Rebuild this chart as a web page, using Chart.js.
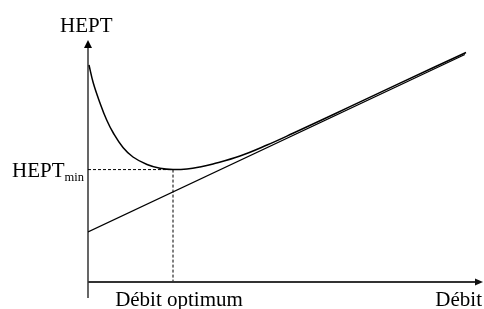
<!DOCTYPE html>
<html>
<head>
<meta charset="utf-8">
<script src="https://cdn.jsdelivr.net/npm/chart.js@4/dist/chart.umd.min.js"></script>
<style>
html,body{margin:0;padding:0;background:#fff;}
canvas{display:block;}
</style>
</head>
<body>
<canvas id="c" width="484" height="309"></canvas>
<script>
// Data (arbitrary units: x 0..100, y 0..100)
const curveX = [0.25, 1.34, 3.04, 4.73, 6.41, 8.86, 11.39, 14.94, 18.23, 21.52, 25.06, 28.35, 31.65, 38.48, 45.32, 51.90, 58.73, 66.33, 78.99, 95.70];
const curveY = [89.67, 82.23, 73.97, 66.94, 61.57, 55.58, 51.65, 48.55, 46.98, 46.45, 46.69, 47.52, 48.76, 52.07, 56.60, 61.45, 66.65, 72.45, 82.19, 94.83];
const lineX = [0, 95.4];
const lineY = [20.7, 94.0];
const optimumX = 21.52;  // Débit optimum
const hminY = 46.45;     // HEPT min
const labels = { yAxis: "HEPT", xAxis: "Débit", hmin: "HEPT", hminSub: "min", opt: "Débit optimum" };

const toPts = (xs, ys) => xs.map((x, i) => ({ x: x, y: ys[i] }));

const overlay = {
  id: 'overlay',
  afterDatasetsDraw(chart) {
    const ctx = chart.ctx;
    const xs = chart.scales.x, ys = chart.scales.y;
    const x0 = xs.getPixelForValue(0), y0 = ys.getPixelForValue(0);
    const xEnd = xs.getPixelForValue(100), yTop = ys.getPixelForValue(100);
    ctx.save();
    // y axis
    ctx.strokeStyle = '#000'; ctx.lineWidth = 1.2;
    ctx.beginPath(); ctx.moveTo(x0, yTop + 6); ctx.lineTo(x0, y0 + 16); ctx.stroke();
    ctx.fillStyle = '#000';
    ctx.beginPath(); ctx.moveTo(x0, yTop); ctx.lineTo(x0 - 4, yTop + 8); ctx.lineTo(x0 + 4, yTop + 8); ctx.closePath(); ctx.fill();
    // x axis
    ctx.strokeStyle = '#333'; ctx.lineWidth = 2;
    ctx.beginPath(); ctx.moveTo(x0, y0); ctx.lineTo(xEnd - 6, y0); ctx.stroke();
    ctx.fillStyle = '#111';
    ctx.beginPath(); ctx.moveTo(xEnd, y0); ctx.lineTo(xEnd - 8, y0 - 3.5); ctx.lineTo(xEnd - 8, y0 + 3.5); ctx.closePath(); ctx.fill();
    // texts
    ctx.fillStyle = '#000';
    ctx.textBaseline = 'alphabetic';
    ctx.font = '21px "Liberation Serif", "Times New Roman", serif';
    ctx.textAlign = 'left';
    ctx.fillText(labels.yAxis, x0 - 28, yTop - 8);
    const hy = ys.getPixelForValue(hminY);
    ctx.fillText(labels.hmin, 12, hy + 7);
    const w = ctx.measureText(labels.hmin).width;
    ctx.font = '12.5px "Liberation Serif", "Times New Roman", serif';
    ctx.fillText(labels.hminSub, 12 + w, hy + 11);
    ctx.font = '21px "Liberation Serif", "Times New Roman", serif';
    ctx.textAlign = 'center';
    ctx.fillText(labels.opt, xs.getPixelForValue(optimumX) + 6, y0 + 24);
    ctx.textAlign = 'right';
    ctx.fillText(labels.xAxis, xEnd - 1, y0 + 24);
    ctx.restore();
  }
};

new Chart(document.getElementById('c'), {
  type: 'scatter',
  data: {
    datasets: [
      { data: toPts(curveX, curveY), showLine: true, borderColor: '#000', borderWidth: 1.5, pointRadius: 0, tension: 0.4, fill: false },
      { data: toPts(lineX, lineY), showLine: true, borderColor: '#000', borderWidth: 1.3, pointRadius: 0, fill: false },
      { data: [{ x: 0, y: hminY }, { x: optimumX, y: hminY }, { x: optimumX, y: 0 }], showLine: true, borderColor: '#000', borderWidth: 1, borderDash: [3, 2], pointRadius: 0, fill: false }
    ]
  },
  options: {
    responsive: false,
    animation: false,
    devicePixelRatio: 1,
    layout: { padding: { left: 88, right: 1, top: 40, bottom: 27 } },
    plugins: { legend: { display: false }, tooltip: { enabled: false } },
    scales: {
      x: { type: 'linear', min: 0, max: 100, display: false },
      y: { type: 'linear', min: 0, max: 100, display: false }
    }
  },
  plugins: [overlay]
});
</script>
</body>
</html>
